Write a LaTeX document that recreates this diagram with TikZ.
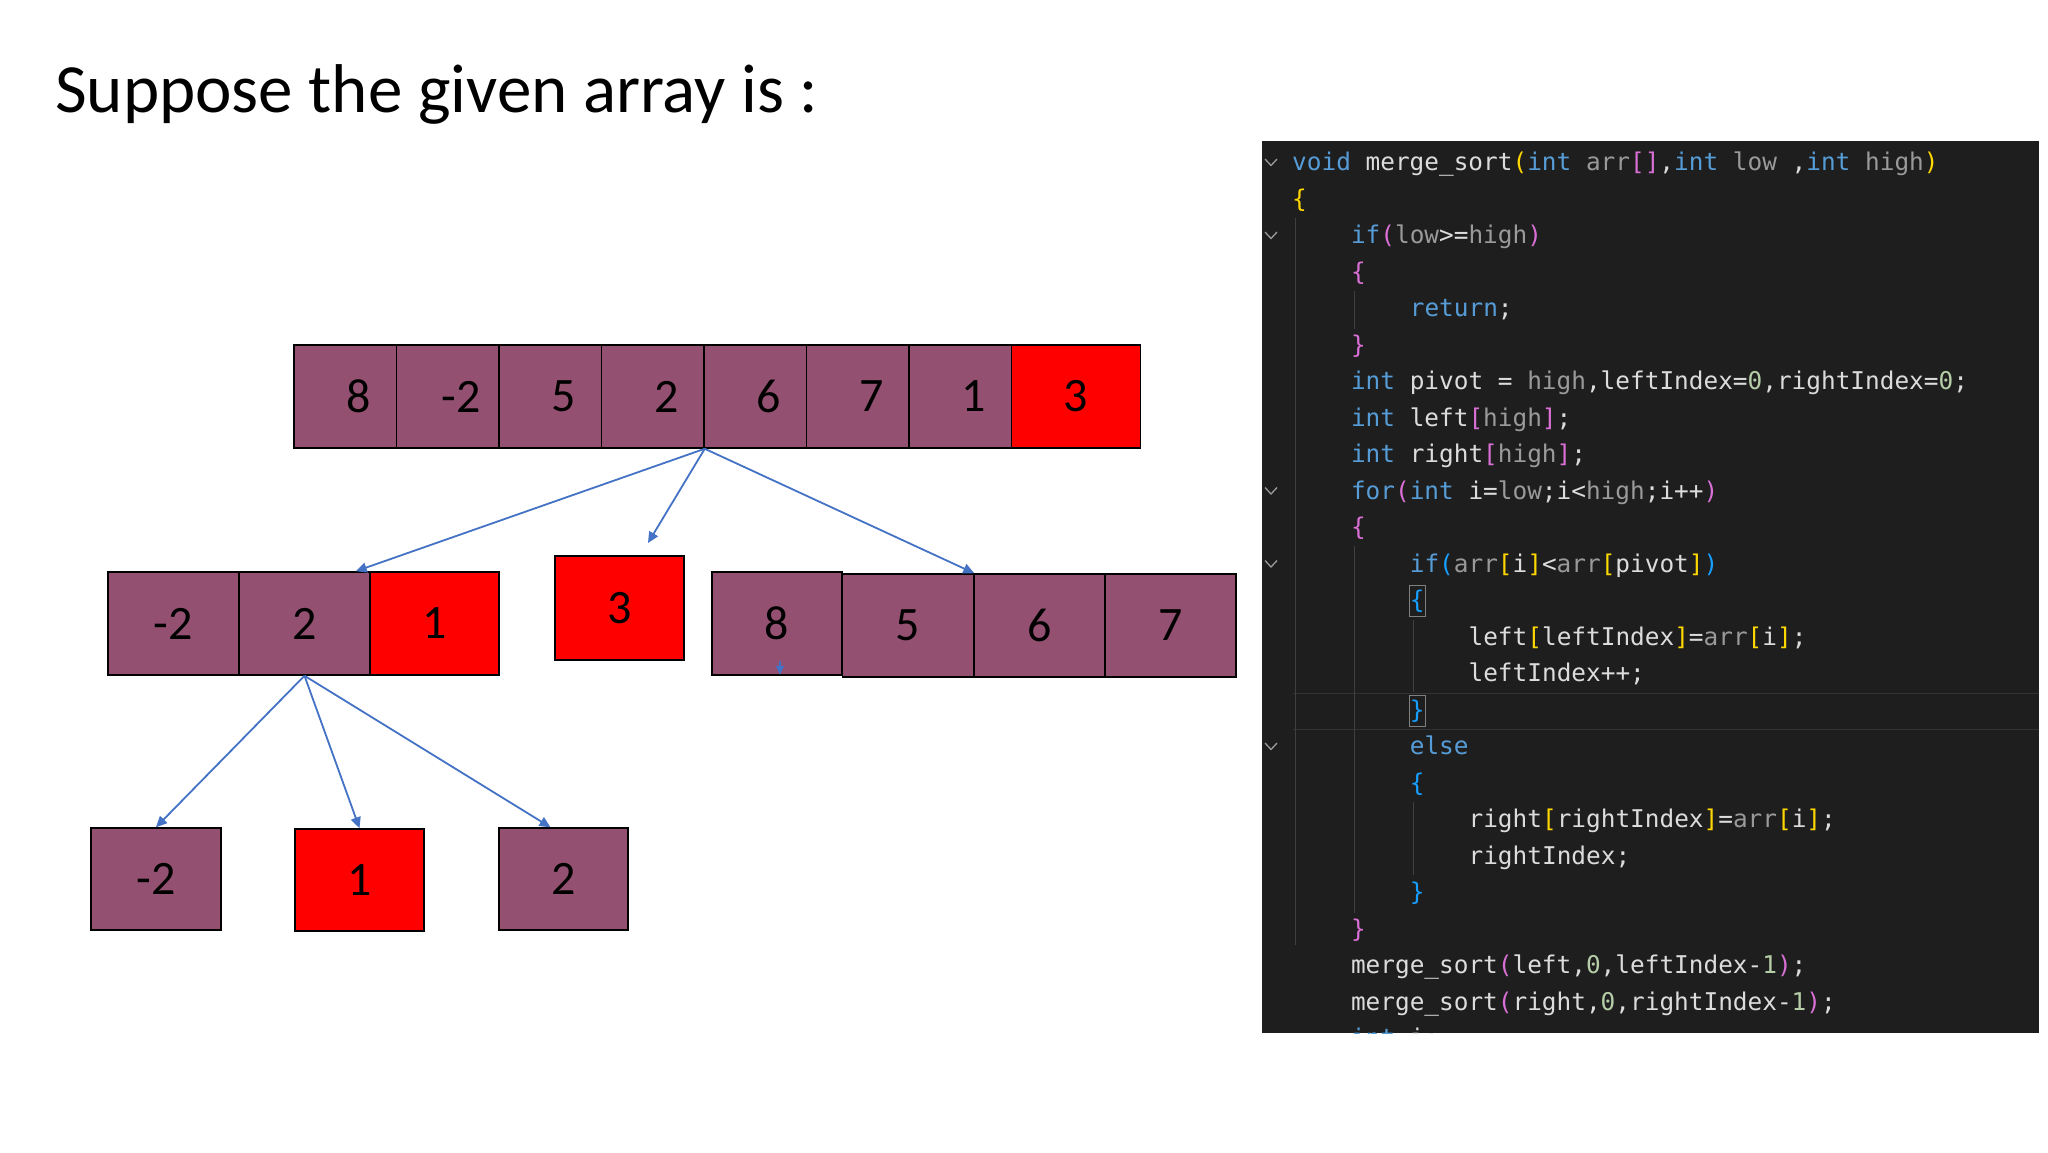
\documentclass[tikz,border=0pt]{standalone}
\usepackage{fontspec}
\setmainfont{Carlito}
\newfontfamily\codefont{DejaVu Sans Mono}
\usetikzlibrary{arrows.meta,calc}
\definecolor{cellpurple}{HTML}{945071}
\definecolor{cellred}{HTML}{FF0000}
\definecolor{arrblue}{HTML}{4472C4}
\definecolor{codebg}{HTML}{1E1E1E}
\definecolor{codetxt}{HTML}{DCDCDC}
\definecolor{kwblue}{HTML}{569CD6}
\definecolor{prmgray}{HTML}{9A9A9A}
\definecolor{bryellow}{HTML}{FFD700}
\definecolor{brpink}{HTML}{DA70D6}
\definecolor{brblue}{HTML}{179FFF}
\definecolor{numgreen}{HTML}{B5CEA8}
\definecolor{guide}{HTML}{404040}
\newcommand\ckw[1]{\textcolor{kwblue}{#1}}
\newcommand\cpr[1]{\textcolor{prmgray}{#1}}
\newcommand\cba[1]{\textcolor{bryellow}{#1}}
\newcommand\cbb[1]{\textcolor{brpink}{#1}}
\newcommand\cbc[1]{\textcolor{brblue}{#1}}
\newcommand\cnm[1]{\textcolor{numgreen}{#1}}
\begin{document}
\begin{tikzpicture}[x=1pt,y=-1pt,
  cell/.style={draw=black,line width=1.5pt,fill=cellpurple,inner sep=0pt,
    font=\fontsize{48}{48}\selectfont,text=black},
  redcell/.style={cell,fill=cellred},
  topcell/.style={cell,minimum width=102.5pt,minimum height=103pt},
  midcell/.style={cell,minimum width=131pt,minimum height=103pt},
  arr/.style={draw=arrblue,line width=1.8pt,-{Triangle[length=11pt,width=10pt]}},
  codeline/.style={anchor=base west,inner sep=0pt,text=codetxt,
    font=\codefont\fontsize{24.4}{24.4}\selectfont},
  chev/.style={draw=prmgray,line width=1.3pt},
  guideline/.style={draw=guide,line width=1pt}]
\useasboundingbox (0,0) rectangle (2048,1152);
\fill[white] (0,0) rectangle (2048,1152);

% title
\node[anchor=base west,inner sep=0pt,font=\fontsize{69}{69}\selectfont] (title) at (55,112) {Suppose the given array is :};

% top array
\node[topcell] (t1) at (345.25,396.5) {\hspace*{27pt}8};
\node[topcell] (t2) at (447.75,396.5) {\hspace*{27pt}-2};
\node[topcell] (t3) at (550.25,396.5) {\hspace*{27pt}5};
\node[topcell] (t4) at (652.75,396.5) {\hspace*{27pt}2};
\node[topcell] (t5) at (755.25,396.5) {\hspace*{27pt}6};
\node[topcell] (t6) at (857.75,396.5) {\hspace*{27pt}7};
\node[topcell] (t7) at (960.25,396.5) {\hspace*{27pt}1};
\node[topcell,redcell,minimum width=129pt] (t8) at (1075.75,396.5) {3};

% second row
\node[midcell] (m1) at (173.5,623.5) {-2};
\node[midcell] (m2) at (304.5,623.5) {2};
\node[midcell,redcell,minimum width=129pt] (m3) at (434.5,623.5) {1};
\node[midcell,redcell,minimum width=129pt,minimum height=104pt] (p) at (619.5,608) {3};
\node[midcell,minimum width=130pt] (r1) at (777,623.5) {8};
\node[midcell] (r2) at (908,625.5) {5};
\node[midcell] (r3) at (1039.5,625.5) {6};
\node[midcell] (r4) at (1170.5,625.5) {7};

% third row
\node[midcell,minimum width=130pt,minimum height=102pt] (b1) at (156,879) {-2};
\node[midcell,redcell,minimum width=129pt,minimum height=102pt] (b2) at (359.5,880) {1};
\node[midcell,minimum width=129pt,minimum height=102pt] (b3) at (563.5,879) {2};

% arrows
\coordinate (src) at (t4.south east);
\coordinate (e1) at ($(m2.north east)+(-15,0)$);
\coordinate (e2) at (648,543);
\coordinate (e3) at (r2.north east);
\draw[arr] (src) -- (e1);
\draw[arr] (src) -- (e2);
\draw[arr] (src) -- (e3);
\coordinate (s8a) at ($(r1.south)+(3,-15)$);
\coordinate (s8b) at ($(r1.south)+(3,-1)$);
\draw[arr,-{Triangle[length=9pt,width=8pt]}] (s8a) -- (s8b);
\coordinate (src2) at (m2.south);
\coordinate (f3) at ($(b3.north)+(-13,0)$);
\draw[arr] (src2) -- (b1.north);
\draw[arr] (src2) -- (b2.north);
\draw[arr] (src2) -- (f3);

% code panel
\fill[codebg] (1262,141) rectangle (2039,1033);
\begin{scope}[yshift=-2.5pt]
\clip (1262,138.5) rectangle (2039,1030.5);
% line highlight
\draw[draw=black!80!white,line width=1pt] (1293,690.5) -- (2039,690.5);
\draw[draw=black!80!white,line width=1pt] (1293,726.5) -- (2039,726.5);
% indent guides
\draw[guideline] (1295,215) -- (1295,942);
\draw[guideline] (1354,288) -- (1354,326);
\draw[guideline] (1354,543) -- (1354,910);
\draw[guideline] (1413,617) -- (1413,689);
\draw[guideline] (1413,799) -- (1413,872);
% bracket match boxes
\draw[draw=gray,line width=1pt] (1409,583) rectangle (1425,614);
\draw[draw=gray,line width=1pt] (1409,692.5) rectangle (1425,723.5);
% fold chevrons
\foreach \l in {1,3,10,12,17}{
  \pgfmathsetmacro\yc{168+(\l-1)*36.5-8}
  \draw[chev] (1265,\yc-3.5) -- (1271,\yc+3) -- (1277,\yc-3.5);
}
\node[codeline] (c1) at (1292,168) {\ckw{void} merge\_sort\cba{(}\ckw{int} \cpr{arr}\cbb{[]},\ckw{int} \cpr{low} ,\ckw{int} \cpr{high}\cba{)}};
\node[codeline] (c2) at (1292,204.5) {\cba{\{}};
\node[codeline] (c3) at (1350.8,241) {\ckw{if}\cbb{(}\cpr{low}>=\cpr{high}\cbb{)}};
\node[codeline] (c4) at (1350.8,277.5) {\cbb{\{}};
\node[codeline] (c5) at (1409.6,314) {\ckw{return};};
\node[codeline] (c6) at (1350.8,350.5) {\cbb{\}}};
\node[codeline] (c7) at (1350.8,387) {\ckw{int} pivot = \cpr{high},leftIndex=\cnm{0},rightIndex=\cnm{0};};
\node[codeline] (c8) at (1350.8,423.5) {\ckw{int} left\cbb{[}\cpr{high}\cbb{]};};
\node[codeline] (c9) at (1350.8,460) {\ckw{int} right\cbb{[}\cpr{high}\cbb{]};};
\node[codeline] (c10) at (1350.8,496.5) {\ckw{for}\cbb{(}\ckw{int} i=\cpr{low};i<\cpr{high};i++\cbb{)}};
\node[codeline] (c11) at (1350.8,533) {\cbb{\{}};
\node[codeline] (c12) at (1409.6,569.5) {\ckw{if}\cbc{(}\cpr{arr}\cba{[}i\cba{]}<\cpr{arr}\cba{[}pivot\cba{]}\cbc{)}};
\node[codeline] (c13) at (1409.6,606) {\cbc{\{}};
\node[codeline] (c14) at (1468.4,642.5) {left\cba{[}leftIndex\cba{]}=\cpr{arr}\cba{[}i\cba{]};};
\node[codeline] (c15) at (1468.4,679) {leftIndex++;};
\node[codeline] (c16) at (1409.6,715.5) {\cbc{\}}};
\node[codeline] (c17) at (1409.6,752) {\ckw{else}};
\node[codeline] (c18) at (1409.6,788.5) {\cbc{\{}};
\node[codeline] (c19) at (1468.4,825) {right\cba{[}rightIndex\cba{]}=\cpr{arr}\cba{[}i\cba{]};};
\node[codeline] (c20) at (1468.4,861.5) {rightIndex;};
\node[codeline] (c21) at (1409.6,898) {\cbc{\}}};
\node[codeline] (c22) at (1350.8,934.5) {\cbb{\}}};
\node[codeline] (c23) at (1350.8,971) {merge\_sort\cbb{(}left,\cnm{0},leftIndex-\cnm{1}\cbb{)};};
\node[codeline] (c24) at (1350.8,1007.5) {merge\_sort\cbb{(}right,\cnm{0},rightIndex-\cnm{1}\cbb{)};};
\node[codeline] (c25) at (1350.8,1044) {\ckw{int} i;};
\end{scope}
\end{tikzpicture}
\end{document}
